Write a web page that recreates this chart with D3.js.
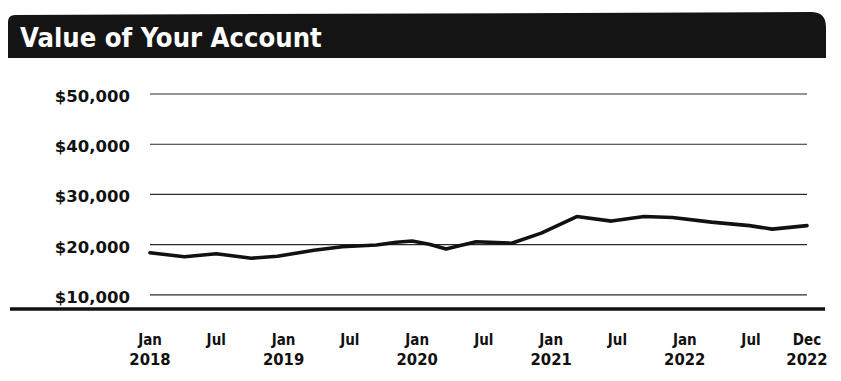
<!DOCTYPE html>
<html>
<head>
<meta charset="utf-8">
<script src="https://cdn.jsdelivr.net/npm/d3@7"></script>
<style>
  html, body { margin: 0; padding: 0; background: #fff; }
  svg { display: block; }
</style>
</head>
<body>
<svg id="chart" width="841" height="381"></svg>
<script>
// ---- data ----
const title = "Value of Your Account";
const dates = ["2018-01-01","2018-04-05","2018-07-01","2018-10-05","2018-12-15","2019-03-25","2019-06-10","2019-09-12",
               "2019-11-05","2019-12-18","2020-02-03","2020-03-20","2020-04-25","2020-06-10","2020-09-15","2020-12-05",
               "2021-03-12","2021-06-15","2021-09-12","2021-11-28","2022-03-15","2022-06-27","2022-08-28","2022-12-01"];
const values = [18400,17600,18200,17300,17700,18900,19600,19950,
                20500,20750,20100,19150,19800,20600,20300,22300,
                25600,24700,25600,25400,24500,23800,23100,23800];
const yTicks = [10000,20000,30000,40000,50000];
const yTickLabels = ["$10,000","$20,000","$30,000","$40,000","$50,000"];
const xTickDates = ["2018-01-01","2018-07-01","2019-01-01","2019-07-01","2020-01-01","2020-07-01","2021-01-01","2021-07-01","2022-01-01","2022-07-01","2022-12-01"];
const xTickMonth = ["Jan","Jul","Jan","Jul","Jan","Jul","Jan","Jul","Jan","Jul","Dec"];
const xTickYear  = ["2018","","2019","","2020","","2021","","2022","","2022"];
const yFloor = 7200;

// ---- drawing ----
const parse = d3.timeParse("%Y-%m-%d");
const svg = d3.select("#chart");

const x = d3.scaleTime()
  .domain([parse("2018-01-01"), parse("2022-12-01")])
  .range([150, 807]);
const y = d3.scaleLinear()
  .domain([yFloor, 50000])
  .range([309, 94]);

// title bar
const bx0 = 8, bx1 = 826, by0 = 15, by1 = 58, rL = 7, rR = 15;
svg.append("path")
  .attr("d", `M${bx0},${by1} L${bx0},${by0 + rL} Q${bx0},${by0} ${bx0 + rL},${by0} L${bx1 - rR},${by0 - 3} Q${bx1},${by0 - 3} ${bx1},${by0 + rR - 3} L${bx1},${by1} Z`)
  .attr("fill", "#141414");
const tt = svg.append("text")
  .attr("x", 0).attr("y", 0)
  .attr("fill", "#fff")
  .attr("font-family", "'DejaVu Sans Condensed', sans-serif")
  .attr("font-weight", "bold")
  .attr("font-size", 26)
  .text(title);
const tw = tt.node().getComputedTextLength();
tt.attr("transform", `translate(20,47) scale(${302 / tw},1)`);

// gridlines
svg.append("g").selectAll("line").data(yTicks).join("line")
  .attr("x1", x(parse("2018-01-01"))).attr("x2", x(parse("2022-12-01")))
  .attr("y1", d => y(d)).attr("y2", d => y(d))
  .attr("stroke", "#2a2a2a").attr("stroke-width", 1.2);

// y labels
svg.append("g").selectAll("text").data(yTicks).join("text")
  .attr("x", 130).attr("y", d => y(d) + 8)
  .attr("text-anchor", "end")
  .attr("font-family", "'DejaVu Sans', sans-serif")
  .attr("font-weight", "bold")
  .attr("font-size", 16.5)
  .attr("fill", "#111")
  .text((d, i) => yTickLabels[i]);

// baseline
svg.append("line")
  .attr("x1", 10).attr("x2", 825)
  .attr("y1", y(yFloor)).attr("y2", y(yFloor))
  .attr("stroke", "#111").attr("stroke-width", 3.5);

// data line
const pts = dates.map((d, i) => ({ date: parse(d), value: values[i] }));
svg.append("path")
  .datum(pts)
  .attr("fill", "none")
  .attr("stroke", "#111")
  .attr("stroke-width", 3.6)
  .attr("stroke-linejoin", "round")
  .attr("stroke-linecap", "round")
  .attr("d", d3.line().x(d => x(d.date)).y(d => y(d.value)));

// x labels
const xl = svg.append("g").selectAll("g").data(xTickDates).join("g")
  .attr("transform", d => `translate(${x(parse(d))},0)`);
xl.append("text")
  .attr("y", 345).attr("text-anchor", "middle")
  .attr("font-family", "'DejaVu Sans Condensed', sans-serif")
  .attr("font-weight", "bold").attr("font-size", 15)
  .attr("fill", "#111")
  .text((d, i) => xTickMonth[i]);
xl.append("text")
  .attr("y", 365).attr("text-anchor", "middle")
  .attr("font-family", "'DejaVu Sans Condensed', sans-serif")
  .attr("font-weight", "bold").attr("font-size", 16.5)
  .attr("fill", "#111")
  .text((d, i) => xTickYear[i]);
</script>
</body>
</html>
